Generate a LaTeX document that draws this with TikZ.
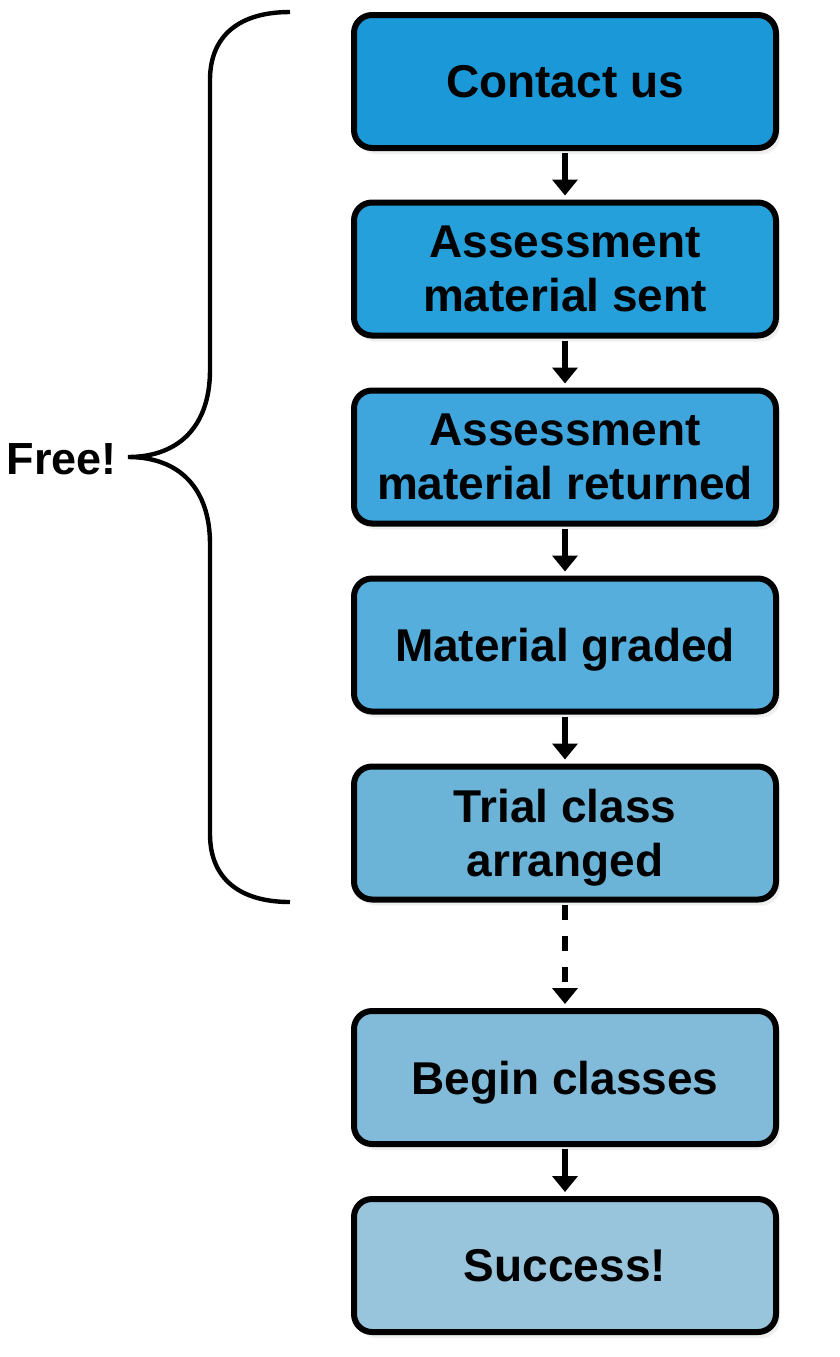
\documentclass[tikz,border=0pt]{standalone}
\usepackage{fontspec}
\setmainfont{Liberation Sans}
\usetikzlibrary{arrows.meta,shadows}
\definecolor{c1}{HTML}{1A98D8}
\definecolor{c2}{HTML}{25A0DA}
\definecolor{c3}{HTML}{3EA6DC}
\definecolor{c4}{HTML}{55AEDB}
\definecolor{c5}{HTML}{6BB4D8}
\definecolor{c6}{HTML}{82BBD9}
\definecolor{c7}{HTML}{98C4DC}
\tikzset{
  stepbox/.style={draw=black, line width=3pt, rounded corners=9pt,
    minimum width=211pt, minimum height=66.5pt, align=center, text depth=0pt,
    font=\fontsize{23}{27}\selectfont\bfseries, text=black,
    drop shadow={shadow xshift=2pt, shadow yshift=-3pt, opacity=0.12}},
  flow/.style={line width=2.8pt, -{Triangle[width=12.5pt,length=8pt]}, shorten >=2pt, shorten <=1pt},
  dflow/.style={flow, dash pattern=on 7.5pt off 8pt},
}
\begin{document}
\begin{tikzpicture}[x=0.5pt,y=-0.5pt]
\path[use as bounding box, fill=white] (0,0) rectangle (840,1357);
\node[stepbox, fill=c1] (n1) at (565,81.5) {Contact us};
\node[stepbox, fill=c2] (n2) at (565,269) {Assessment\\material sent};
\node[stepbox, fill=c3] (n3) at (565,457) {Assessment\\material returned};
\node[stepbox, fill=c4] (n4) at (565,645) {Material graded};
\node[stepbox, fill=c5] (n5) at (565,833) {Trial class\\arranged};
\node[stepbox, fill=c6] (n6) at (565,1077.5) {Begin classes};
\node[stepbox, fill=c7] (n7) at (565,1265.5) {Success!};
\draw[flow] (n1) -- (n2);
\draw[flow] (n2) -- (n3);
\draw[flow] (n3) -- (n4);
\draw[flow] (n4) -- (n5);
\draw[dflow] (n5) -- (n6);
\draw[flow] (n6) -- (n7);
\node[font=\fontsize{22.5}{27}\selectfont\bfseries, anchor=east, inner sep=0pt] (free) at (117,459) {Free!};
\coordinate (btop) at (290,12);
\coordinate (btip) at (128,457);
\coordinate (bbot) at (290,902);
\draw[line width=2.2pt, line cap=butt] (btop) .. controls (240,12) and (210,35) .. (210,80)
  -- (210,370) .. controls (210,425) and (180,457) .. (btip)
  .. controls (180,457) and (210,489) .. (210,544)
  -- (210,834) .. controls (210,879) and (240,902) .. (bbot);
\end{tikzpicture}
\end{document}
